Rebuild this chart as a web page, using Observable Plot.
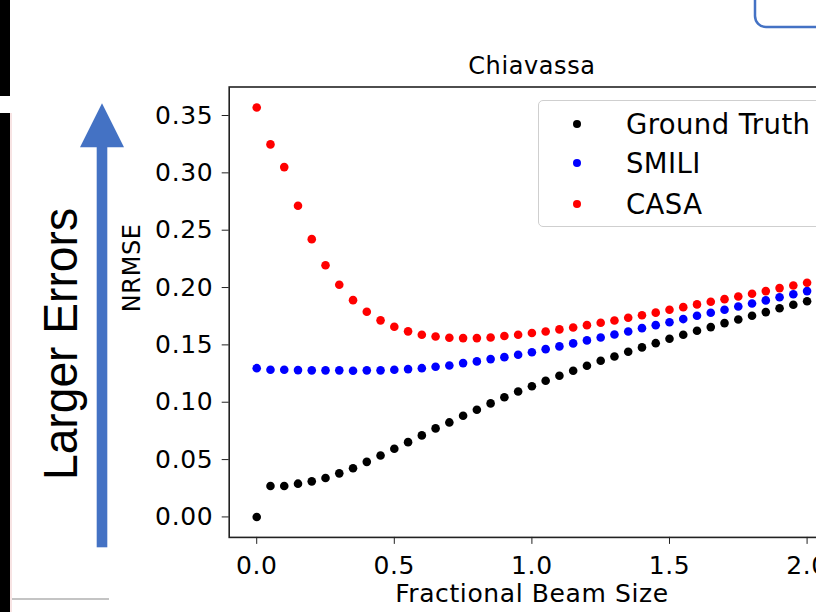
<!DOCTYPE html>
<html>
<head>
<meta charset="utf-8">
<script src="https://cdn.jsdelivr.net/npm/d3@7"></script>
<script src="https://cdn.jsdelivr.net/npm/@observablehq/plot@0.6"></script>
<style>
  html, body { margin: 0; padding: 0; background: #fff; }
  #page { position: relative; width: 816px; height: 612px; overflow: hidden; background: #fff; }
  #chart { position: absolute; left: 0; top: 0; width: 850px; height: 612px; }
  #chart svg { max-width: none !important; width: 850px !important; height: 612px !important; }
  #chart svg text { letter-spacing: 0.6px; }
  #deco { position: absolute; left: 0; top: 0; }
  #legend { position: absolute; left: 538px; top: 100px; width: 320px; height: 127px;
            border: 1.5px solid #cfcfcf; border-radius: 5px; background: rgba(255,255,255,0.85);
            box-sizing: border-box; font-family: "DejaVu Sans", sans-serif; font-size: 27.5px; letter-spacing: 0.4px; color: #000; }
  .item { position: absolute; left: 0; height: 34px; line-height: 34px; white-space: nowrap; }
  .item .dot { position: absolute; left: 34px; top: 13px; width: 8px; height: 8px; border-radius: 50%; }
  .item .lab { position: absolute; left: 87px; top: 0; }
</style>
</head>
<body>
<div id="page">
  <div id="chart"></div>
  <svg id="deco" width="816" height="612">
    <rect x="0" y="0" width="10" height="96" fill="#000"/>
    <rect x="0" y="113" width="10" height="499" fill="#000"/>
    <line x1="11" y1="113" x2="11" y2="612" stroke="#f0c8c8" stroke-width="1"/>
    <rect x="755" y="-30" width="100" height="57" rx="11" ry="11" fill="none" stroke="#4472C4" stroke-width="2.5"/>
    <rect x="96.7" y="146" width="10.6" height="401.3" fill="#4472C4"/>
    <polygon points="80,147.3 124,147.3 102,103.3" fill="#4472C4"/>
    <line x1="12" y1="599" x2="109" y2="599" stroke="#c4c4c4" stroke-width="2"/>
    <text transform="translate(76.5,344) rotate(-90)" text-anchor="middle" font-family="Liberation Sans, Arial, sans-serif" font-size="49" textLength="272" lengthAdjust="spacingAndGlyphs" fill="#000">Larger Errors</text>
  </svg>
  <div id="legend"></div>
</div>
<script>
// ---- data ----
const beamSize = [0.00, 0.05, 0.10, 0.15, 0.20, 0.25, 0.30, 0.35, 0.40, 0.45,
                  0.50, 0.55, 0.60, 0.65, 0.70, 0.75, 0.80, 0.85, 0.90, 0.95,
                  1.00, 1.05, 1.10, 1.15, 1.20, 1.25, 1.30, 1.35, 1.40, 1.45,
                  1.50, 1.55, 1.60, 1.65, 1.70, 1.75, 1.80, 1.85, 1.90, 1.95, 2.00];
const groundTruth = [0.000, 0.027, 0.027, 0.029, 0.031, 0.034, 0.038, 0.0425, 0.048, 0.0536,
                     0.0594, 0.0652, 0.0711, 0.0772, 0.0824, 0.0882, 0.0935, 0.099, 0.1044, 0.1093,
                     0.114, 0.1187, 0.1231, 0.1275, 0.1318, 0.1362, 0.1399, 0.144, 0.1478, 0.1515,
                     0.1554, 0.1588, 0.1623, 0.1655, 0.169, 0.1722, 0.1754, 0.1786, 0.182, 0.185, 0.1881];
const smili = [0.1297, 0.1283, 0.1283, 0.128, 0.1278, 0.1278, 0.1278, 0.1275, 0.1278, 0.1278,
               0.1283, 0.1289, 0.1297, 0.1309, 0.132, 0.1341, 0.1356, 0.1376, 0.1393, 0.1414,
               0.1436, 0.1463, 0.1487, 0.1513, 0.1539, 0.1565, 0.1591, 0.1617, 0.1646, 0.1672,
               0.1698, 0.1725, 0.1754, 0.178, 0.1806, 0.1835, 0.1861, 0.1888, 0.1916, 0.1942, 0.1969];
const casa = [0.357, 0.3248, 0.305, 0.2713, 0.2422, 0.2195, 0.2024, 0.189, 0.1789, 0.1714,
              0.1658, 0.1618, 0.1588, 0.1573, 0.1562, 0.1559, 0.1559, 0.1565, 0.1578, 0.1588,
              0.1603, 0.1617, 0.1635, 0.1652, 0.1672, 0.1693, 0.1713, 0.1737, 0.1759, 0.1781,
              0.1806, 0.1829, 0.1853, 0.1876, 0.1899, 0.1922, 0.1946, 0.1969, 0.1995, 0.2018, 0.2042];
const seriesNames = ["Ground Truth", "SMILI", "CASA"];
const seriesColors = ["#000000", "#0000ff", "#ff0000"];
const xTicks = [0, 0.5, 1.0, 1.5, 2.0];
const yTicks = [0, 0.05, 0.10, 0.15, 0.20, 0.25, 0.30, 0.35];
const titleText = "Chiavassa";
const xLabel = "Fractional Beam Size";
const yLabel = "NRMSE";

// ---- build table ----
const seriesValues = [groundTruth, smili, casa];
const rows = [];
seriesNames.forEach((name, s) => {
  seriesValues[s].forEach((v, i) => rows.push({series: name, x: beamSize[i], y: v}));
});

const chart = Plot.plot({
  width: 850,
  height: 612,
  marginLeft: 228.7,
  marginRight: 15.9,
  marginTop: 86.5,
  marginBottom: 75.1,
  style: {fontFamily: "DejaVu Sans, sans-serif", fontSize: "25px", color: "#000", background: "transparent", overflow: "visible", maxWidth: "none"},
  x: {domain: [-0.1, 2.1]},
  y: {domain: [-0.01785, 0.37485]},
  color: {domain: seriesNames, range: seriesColors},
  marks: [
    Plot.axisX({ticks: xTicks, tickFormat: d => d.toFixed(1), tickSize: 7, tickPadding: 12, label: null, stroke: "#222"}),
    Plot.axisY({ticks: yTicks, tickFormat: d => d.toFixed(2), tickSize: 7, tickPadding: 9, label: null, stroke: "#222"}),
    Plot.dot(rows, {x: "x", y: "y", fill: "series", r: 4.3, stroke: null}),
    Plot.frame({stroke: "#222", strokeWidth: 1.6}),
    Plot.text([titleText], {text: d => d, frameAnchor: "top", dy: -21, lineAnchor: "middle", fontSize: 24}),
    Plot.text([yLabel], {text: d => d, frameAnchor: "left", rotate: -90, dx: -96.7, lineAnchor: "middle", fontSize: 24}),
    Plot.text([xLabel], {text: d => d, frameAnchor: "bottom", dy: 57, lineAnchor: "middle", fontSize: 25})
  ]
});
chart.style.maxWidth = "none";
document.getElementById("chart").appendChild(chart);

// ---- legend ----
const legend = document.getElementById("legend");
const itemTops = [5.5, 45, 85.5];
seriesNames.forEach((name, i) => {
  const it = document.createElement("div");
  it.className = "item";
  it.style.top = itemTops[i] + "px";
  const dot = document.createElement("span");
  dot.className = "dot";
  dot.style.background = seriesColors[i];
  const lab = document.createElement("span");
  lab.className = "lab";
  lab.textContent = name;
  it.appendChild(dot); it.appendChild(lab);
  legend.appendChild(it);
});
</script>
</body>
</html>
